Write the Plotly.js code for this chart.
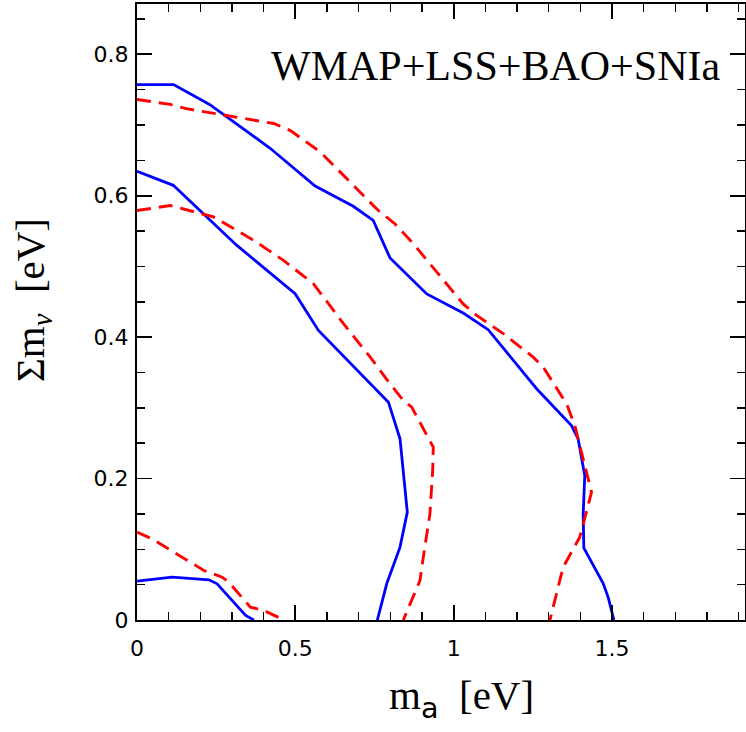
<!DOCTYPE html>
<html>
<head>
<meta charset="utf-8">
<script src="https://cdn.plot.ly/plotly-3.0.1.min.js"></script>
<style>html,body{margin:0;padding:0;background:#fff;}</style>
</head>
<body>
<div id="chart" style="width:746px;height:732px;"></div>
<script>
// Blue solid contours (outer, inner, small)
const blueOuterX = [0, 0.1155, 0.229, 0.4205, 0.5625, 0.683, 0.746, 0.799, 0.915, 1.030, 1.109, 1.199, 1.262, 1.372, 1.393, 1.414, 1.409, 1.411, 1.472, 1.488, 1.506];
const blueOuterY = [0.757, 0.757, 0.729, 0.667, 0.6136, 0.585, 0.565, 0.512, 0.461, 0.434, 0.4105, 0.362, 0.327, 0.275, 0.256, 0.204, 0.150, 0.102, 0.052, 0.032, 0];
const blueInnerX = [0, 0.1145, 0.3145, 0.4994, 0.573, 0.794, 0.8306, 0.8536, 0.8306, 0.7886, 0.759];
const blueInnerY = [0.6344, 0.6146, 0.530, 0.4614, 0.4095, 0.308, 0.2563, 0.1525, 0.103, 0.0512, 0];
const blueSmallX = [0, 0.111, 0.227, 0.253, 0.343, 0.369];
const blueSmallY = [0.0549, 0.0605, 0.0569, 0.0512, 0.0064, 0];

// Red dashed contours (outer, inner, small)
const redOuterX = [0, 0.105, 0.1555, 0.348, 0.432, 0.4845, 0.578, 0.6675, 0.762, 0.815, 0.8726, 1.030, 1.0726, 1.1565, 1.251, 1.2826, 1.3565, 1.3826, 1.4353, 1.4246, 1.398, 1.3457, 1.304];
const redOuterY = [0.736, 0.729, 0.723, 0.709, 0.702, 0.692, 0.662, 0.6217, 0.579, 0.560, 0.532, 0.447, 0.4307, 0.405, 0.3717, 0.3576, 0.3058, 0.275, 0.1808, 0.162, 0.117, 0.0747, 0];
const redInnerX = [0, 0.105, 0.2416, 0.368, 0.4625, 0.557, 0.652, 0.736, 0.799, 0.841, 0.8675, 0.9356, 0.9338, 0.925, 0.904, 0.8937, 0.841];
const redInnerY = [0.579, 0.586, 0.570, 0.537, 0.5085, 0.4755, 0.419, 0.372, 0.334, 0.3105, 0.301, 0.2444, 0.2115, 0.150, 0.0888, 0.0559, 0];
const redSmallX = [0, 0.0473, 0.2114, 0.269, 0.290, 0.358, 0.4006, 0.4637];
const redSmallY = [0.1242, 0.1148, 0.0700, 0.0605, 0.0535, 0.0181, 0.0134, 0];

const xTickVals = [0, 0.5, 1, 1.5];
const xTickText = ['0', '0.5', '1', '1.5'];
const yTickVals = [0, 0.2, 0.4, 0.6, 0.8];
const yTickText = ['0', '0.2', '0.4', '0.6', '0.8'];

const xTitle = 'm<sub><span style="font-family:DejaVu Sans">a</span></sub>  [eV]';
const yTitle = 'Σm<sub><i>ν</i></sub>  [eV]';
const panelLabel = 'WMAP+LSS+BAO+SNIa';

const blueLine = {color: '#0000ff', width: 2.8};
const redLine = {color: '#ff0000', width: 2.9, dash: '14px,8px'};

function tr(x, y, line, name) {
  return {x: x, y: y, type: 'scatter', mode: 'lines', line: line, name: name, hoverinfo: 'skip'};
}

const data = [
  tr(blueOuterX, blueOuterY, blueLine, 'blue outer'),
  tr(blueInnerX, blueInnerY, blueLine, 'blue inner'),
  tr(blueSmallX, blueSmallY, blueLine, 'blue small'),
  tr(redOuterX, redOuterY, redLine, 'red outer'),
  tr(redInnerX, redInnerY, redLine, 'red inner'),
  tr(redSmallX, redSmallY, redLine, 'red small')
];

const tickFont = {family: 'DejaVu Sans', size: 22, color: '#000'};
const titleFont = {family: 'Liberation Serif', size: 41, color: '#000'};

const layout = {
  width: 746, height: 732,
  margin: {l: 137, r: 1, t: 4, b: 112},
  paper_bgcolor: '#fff', plot_bgcolor: '#fff',
  showlegend: false,
  xaxis: {
    range: [0, 1.92], showgrid: false, zeroline: false,
    showline: true, linecolor: '#000', linewidth: 2, mirror: 'ticks',
    ticks: 'inside', ticklen: 15, tickwidth: 1.8, tickcolor: '#000',
    tickvals: xTickVals, ticktext: xTickText, tickfont: tickFont,
    ticklabelstandoff: 8,
    minor: {dtick: 0.1, tick0: 0, ticks: 'inside', ticklen: 8, tickwidth: 1.5, tickcolor: '#000', showgrid: false}
  },
  yaxis: {
    range: [0, 0.871], showgrid: false, zeroline: false,
    showline: true, linecolor: '#000', linewidth: 2, mirror: 'ticks',
    ticks: 'inside', ticklen: 15, tickwidth: 1.8, tickcolor: '#000',
    tickvals: yTickVals, ticktext: yTickText, tickfont: tickFont,
    ticklabelstandoff: 2,
    minor: {dtick: 0.05, tick0: 0, ticks: 'inside', ticklen: 8, tickwidth: 1.5, tickcolor: '#000', showgrid: false}
  },
  annotations: [
    {
      x: 1.846, y: 0.783, xref: 'x', yref: 'y', xanchor: 'right', yanchor: 'middle',
      text: panelLabel, showarrow: false,
      font: {family: 'Liberation Serif', size: 42, color: '#000'}
    },
    {
      x: 0.5345, y: -0.128, xref: 'paper', yref: 'paper', xanchor: 'center', yanchor: 'middle',
      text: xTitle, showarrow: false, font: titleFont
    },
    {
      x: -0.172, y: 0.52, xref: 'paper', yref: 'paper', xanchor: 'center', yanchor: 'middle',
      text: yTitle, showarrow: false, textangle: -90, font: titleFont
    }
  ]
};

Plotly.newPlot('chart', data, layout, {staticPlot: true, displayModeBar: false});
</script>
</body>
</html>
